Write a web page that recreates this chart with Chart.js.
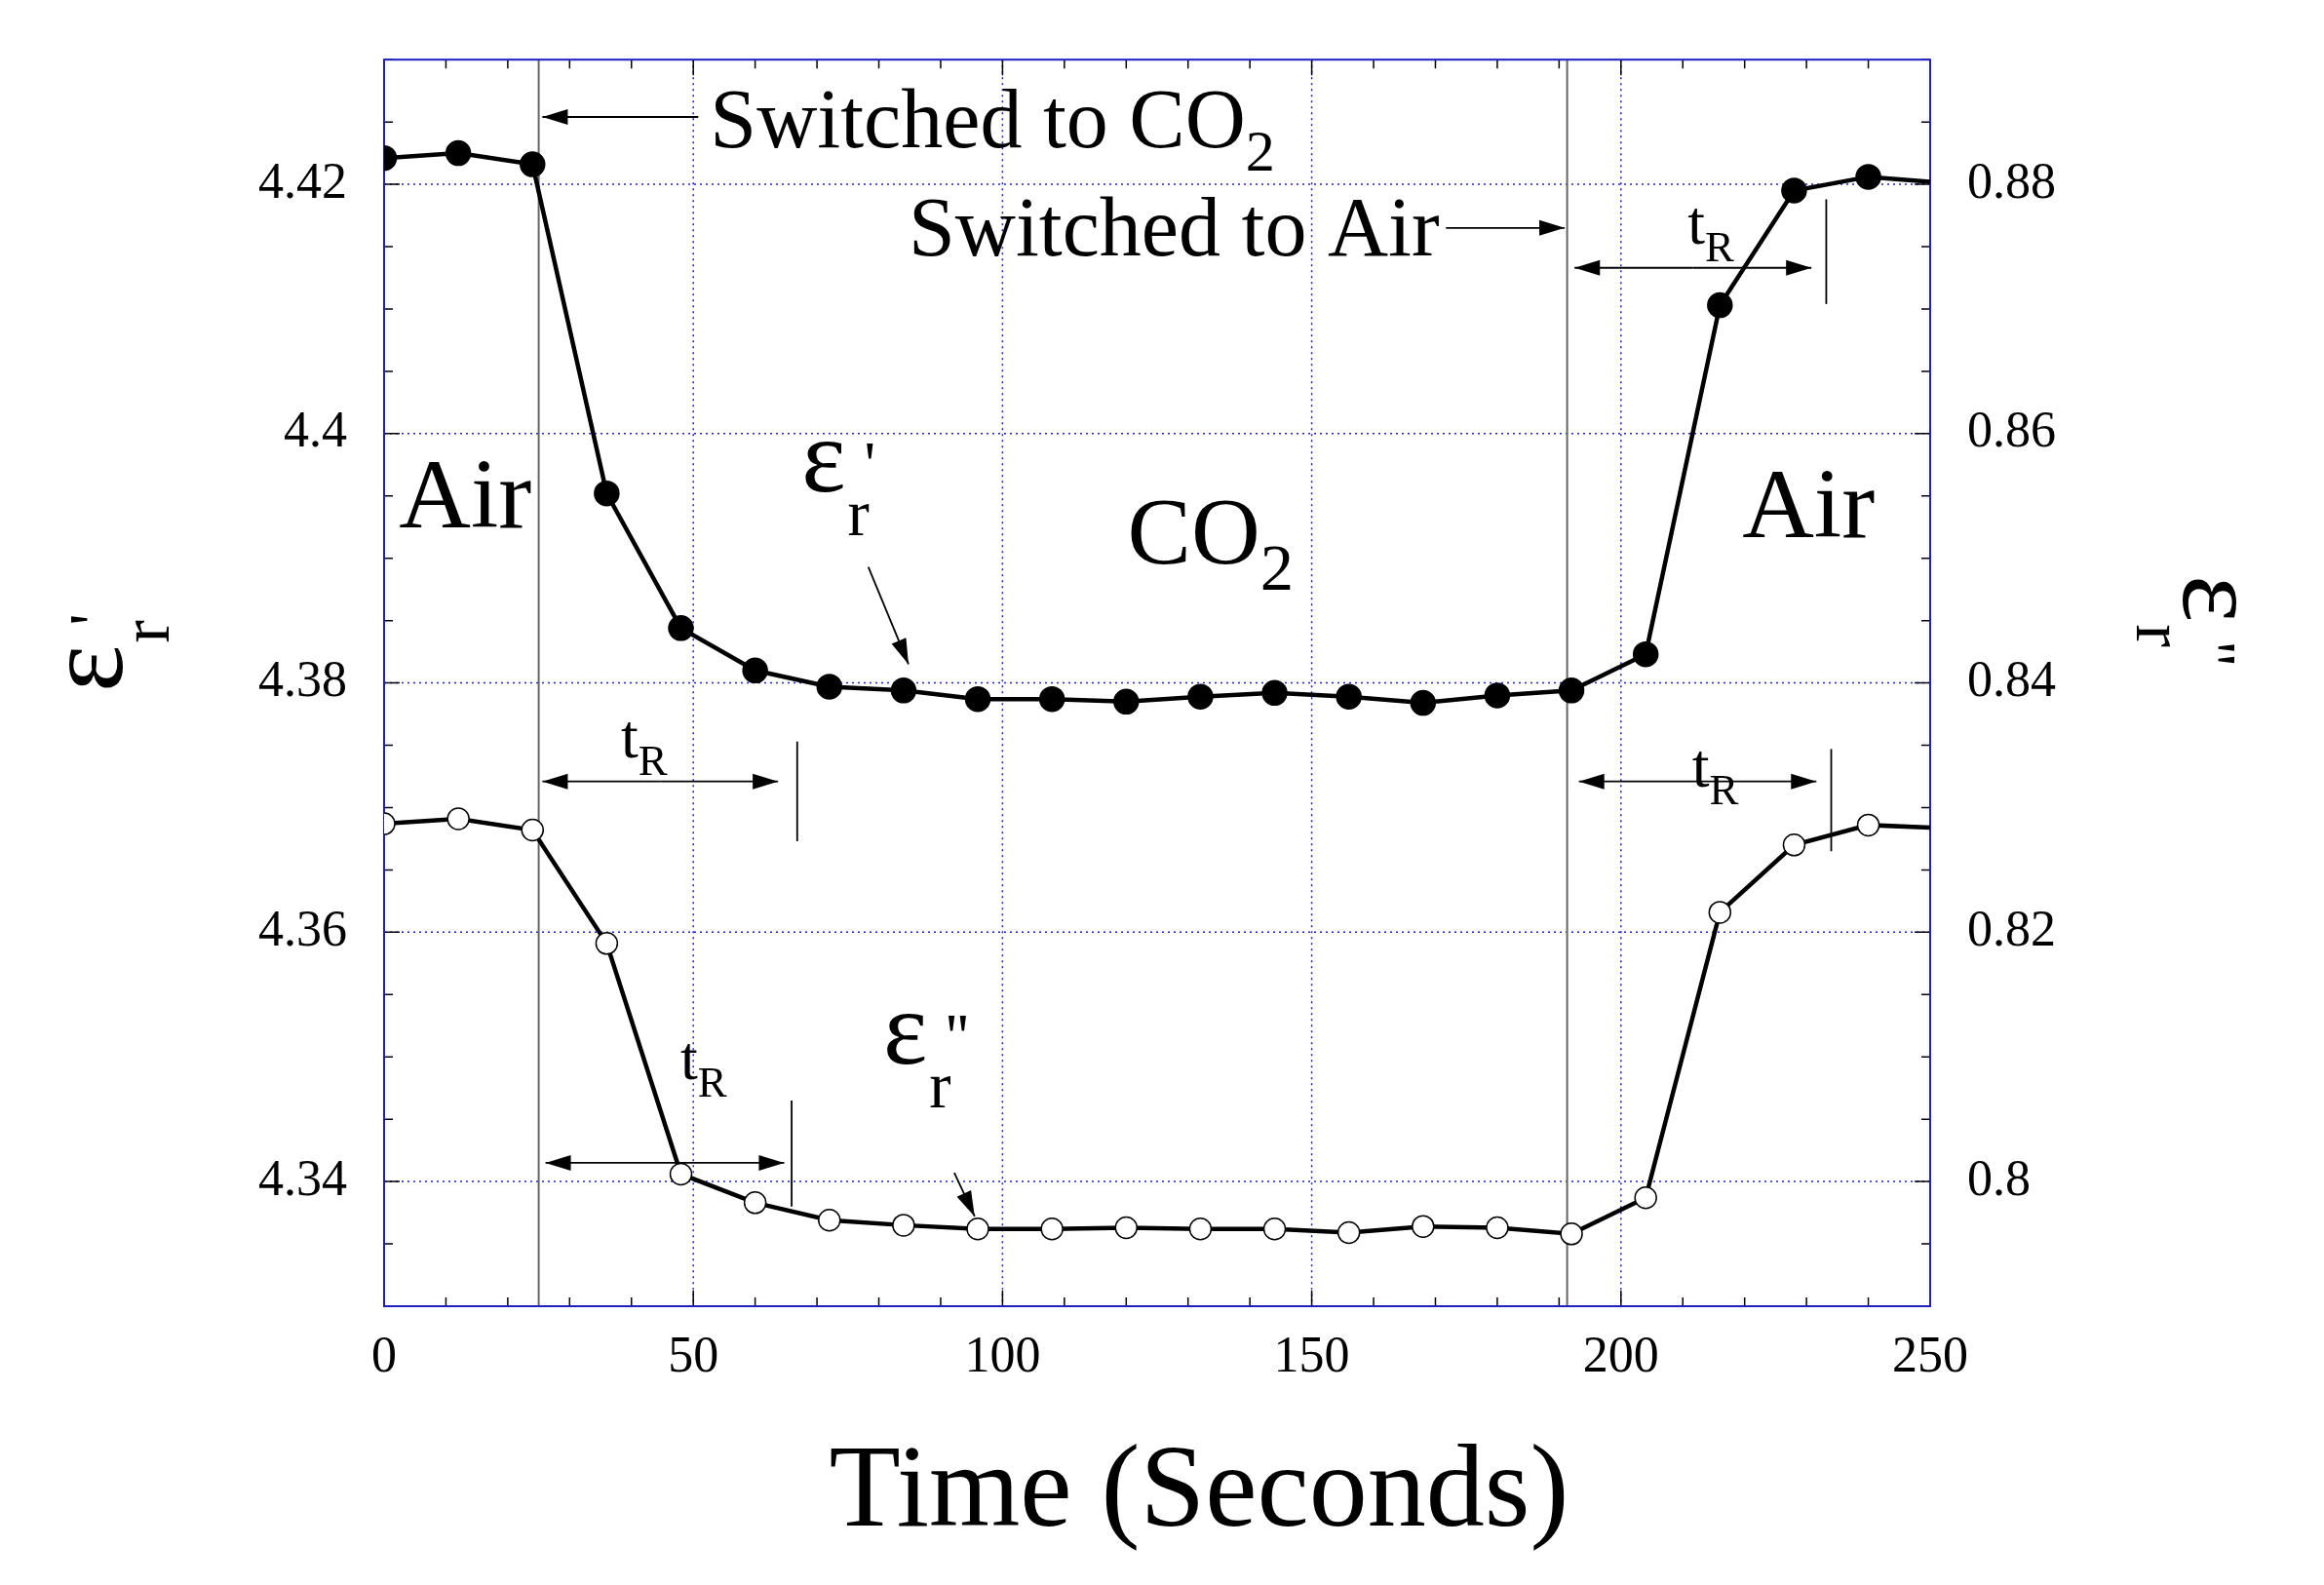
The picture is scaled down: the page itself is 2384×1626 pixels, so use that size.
<!DOCTYPE html>
<html>
<head>
<meta charset="utf-8">
<script src="https://cdn.jsdelivr.net/npm/chart.js@4"></script>
<style>
html,body{margin:0;padding:0;background:#fff;}
#wrap{width:2384px;height:1626px;}
</style>
</head>
<body>
<div id="wrap"><canvas id="c" width="2384" height="1626"></canvas></div>
<script>
// data
let times = [0,12,24,36,48,60,72,84,96,108,120,132,144,156,168,180,192,204,216,228,240,250];
let epsReal = [4.4221,4.4225,4.4216,4.3952,4.3844,4.3810,4.3797,4.3794,4.3787,4.3787,4.3785,4.3789,4.3792,4.3789,4.3784,4.3790,4.3794,4.3823,4.4103,4.4195,4.4206,4.4202];
let epsImag = [0.8287,0.8291,0.8282,0.8191,0.8006,0.7983,0.7969,0.7965,0.7962,0.7962,0.7963,0.7962,0.7962,0.7959,0.7964,0.7963,0.7958,0.7987,0.8216,0.8270,0.8286,0.8284];
let xTicks = [0,50,100,150,200,250];
let leftTicks = [4.34,4.36,4.38,4.40,4.42];
let rightTicks = [0.80,0.82,0.84,0.86,0.88];

const F = "'Liberation Serif','Times New Roman',serif";

function pts(ys){
  return times.map((t,i)=>({x:t,y:ys[i]}));
}
// last point (250) is only the line end, no marker
function radii(r){ return times.map(t => t===250 ? 0 : r); }

function arrow(ctx,x1,y1,x2,y2){
  ctx.beginPath(); ctx.moveTo(x1,y1); ctx.lineTo(x2,y2); ctx.stroke();
  let a = Math.atan2(y2-y1,x2-x1), L=26, W=8;
  ctx.beginPath();
  ctx.moveTo(x2,y2);
  ctx.lineTo(x2-L*Math.cos(a)+W*Math.sin(a), y2-L*Math.sin(a)-W*Math.cos(a));
  ctx.lineTo(x2-L*Math.cos(a)-W*Math.sin(a), y2-L*Math.sin(a)+W*Math.cos(a));
  ctx.closePath(); ctx.fill();
}

function txt(ctx,s,x,y,size){
  ctx.font = size+"px "+F; ctx.fillText(s,x,y);
  return x + ctx.measureText(s).width;
}
function withSub(ctx,main,sub,x,y,size){
  let e = txt(ctx,main,x,y,size);
  return txt(ctx,sub,e,y+size*0.28,size*0.7);
}
function epsLabel(ctx,primes,x,y,size){
  let e = txt(ctx,"\u03b5",x,y,size);
  let r = txt(ctx,"r",e+2,y+size*0.42,size*0.62);
  txt(ctx,primes,r-size*0.05,y-size*0.05,size*0.6);
}

const decor = {
  id:'decor',
  beforeDatasetsDraw(chart){
    const ctx = chart.ctx, xs = chart.scales.x, yl = chart.scales.yL, a = chart.chartArea;
    ctx.save();
    // dotted blue grid
    ctx.strokeStyle = '#2020c0'; ctx.lineWidth = 1.5; ctx.setLineDash([2,4]);
    xTicks.slice(1,-1).forEach(t=>{
      let px = xs.getPixelForValue(t);
      ctx.beginPath(); ctx.moveTo(px,a.top); ctx.lineTo(px,a.bottom); ctx.stroke();
    });
    leftTicks.forEach(v=>{
      let py = yl.getPixelForValue(v);
      ctx.beginPath(); ctx.moveTo(a.left,py); ctx.lineTo(a.right,py); ctx.stroke();
    });
    ctx.setLineDash([]);
    // minor + major ticks inward
    ctx.strokeStyle = '#000'; ctx.lineWidth = 1.5;
    for(let t=0;t<=250;t+=10){
      let px = xs.getPixelForValue(t), len = t%50===0 ? 16 : 9;
      ctx.beginPath(); ctx.moveTo(px,a.bottom); ctx.lineTo(px,a.bottom-len);
      ctx.moveTo(px,a.top); ctx.lineTo(px,a.top+len); ctx.stroke();
    }
    for(let k=0;k<=20;k++){
      let v = 4.33 + k*0.005, py = yl.getPixelForValue(v), len = k%4===2 ? 16 : 9;
      ctx.beginPath(); ctx.moveTo(a.left,py); ctx.lineTo(a.left+len,py);
      ctx.moveTo(a.right,py); ctx.lineTo(a.right-len,py); ctx.stroke();
    }
    // switch lines
    ctx.strokeStyle = '#666'; ctx.lineWidth = 2;
    [25,191.3].forEach(t=>{
      let px = xs.getPixelForValue(t);
      ctx.beginPath(); ctx.moveTo(px,a.top); ctx.lineTo(px,a.bottom); ctx.stroke();
    });
    // frame
    ctx.strokeStyle = '#2020c0'; ctx.lineWidth = 2;
    ctx.strokeRect(a.left,a.top,a.right-a.left,a.bottom-a.top);
    ctx.restore();
  },
  afterDatasetsDraw(chart){
    const ctx = chart.ctx, xs = chart.scales.x, yl = chart.scales.yL;
    const X = t => xs.getPixelForValue(t), Y = v => yl.getPixelForValue(v);
    ctx.save();
    ctx.fillStyle = '#000'; ctx.strokeStyle = '#000'; ctx.lineWidth = 1.8;
    ctx.textBaseline = 'alphabetic'; ctx.textAlign = 'left';
    // switch annotations
    withSub(ctx,"Switched to CO","2",X(52.7),Y(4.4230),86);
    arrow(ctx,X(50.8),Y(4.4254),X(25.6),Y(4.4254));
    txt(ctx,"Switched to Air",X(84.8),Y(4.4143),86);
    arrow(ctx,X(171.7),Y(4.4165),X(190.9),Y(4.4165));
    // region labels
    txt(ctx,"Air",X(2.4),Y(4.3925),102);
    withSub(ctx,"CO","2",X(120.2),Y(4.3896),98);
    txt(ctx,"Air",X(219.6),Y(4.3917),102);
    // epsilon labels
    epsLabel(ctx,"'",X(67.5),Y(4.3954),108);
    arrow(ctx,X(78.3),Y(4.3893),X(84.8),Y(4.3815));
    epsLabel(ctx,"''",X(80.7),Y(4.3495),108);
    arrow(ctx,X(92.2),Y(4.3407),X(95.5),Y(4.3372));
    // response time markers
    const tR = (tx,ty,a1,a2,ay,vx,v1,v2)=>{
      withSub(ctx,"t","R",X(tx),Y(ty),64);
      arrow(ctx,X((a1+a2)/2),Y(ay),X(a1),Y(ay));
      arrow(ctx,X((a1+a2)/2),Y(ay),X(a2),Y(ay));
      ctx.beginPath(); ctx.moveTo(X(vx),Y(v1)); ctx.lineTo(X(vx),Y(v2)); ctx.stroke();
    };
    tR(210.8,4.4152,192.5,230.8,4.4133,233.2,4.4188,4.4104);
    tR(38.3,4.3740,25.6,63.7,4.3721,66.8,4.3753,4.3673);
    tR(211.5,4.3717,193.2,231.6,4.3721,234,4.3747,4.3665);
    tR(47.9,4.3482,26.1,64.7,4.3415,65.9,4.3465,4.3380);
    // axis titles
    ctx.textAlign = 'center';
    ctx.font = "120px "+F;
    ctx.fillText("Time (Seconds)",1230,1565);
    ctx.textAlign = 'left';
    ctx.save(); ctx.translate(125,660); ctx.rotate(-Math.PI/2);
    epsLabel(ctx,"'",-50,0,115); ctx.restore();
    ctx.save(); ctx.translate(2240,590); ctx.rotate(Math.PI/2);
    epsLabel(ctx,"''",0,0,115); ctx.restore();
    ctx.restore();
  }
};

new Chart(document.getElementById('c'),{
  type:'line',
  data:{datasets:[
    {data:pts(epsReal), yAxisID:'yL', borderColor:'#000', borderWidth:4.5,
     pointRadius:radii(11), pointBackgroundColor:'#000', pointBorderColor:'#000', tension:0},
    {data:pts(epsImag), yAxisID:'yR', borderColor:'#000', borderWidth:4.5,
     pointRadius:radii(11), pointBackgroundColor:'#fff', pointBorderColor:'#000', pointBorderWidth:1.5, tension:0}
  ]},
  plugins:[decor],
  options:{
    responsive:false, animation:false,
    layout:{padding:{top:10}},
    plugins:{legend:{display:false}, tooltip:{enabled:false}},
    scales:{
      x:{type:'linear', min:0, max:250,
        afterBuildTicks:s=>{s.ticks = xTicks.map(v=>({value:v}));},
        afterFit:s=>{s.height = 286;},
        grid:{display:false}, border:{display:false},
        ticks:{color:'#000', padding:14, font:{family:F,size:52}}},
      yL:{type:'linear', position:'left', min:4.33, max:4.43,
        afterBuildTicks:s=>{s.ticks = leftTicks.map(v=>({value:v}));},
        afterFit:s=>{s.width = 394;},
        grid:{display:false}, border:{display:false},
        ticks:{color:'#000', padding:30, font:{family:F,size:52}, callback:v=>String(+v.toFixed(2))}},
      yR:{type:'linear', position:'right', min:0.79, max:0.89,
        afterBuildTicks:s=>{s.ticks = rightTicks.map(v=>({value:v}));},
        afterFit:s=>{s.width = 404;},
        grid:{display:false}, border:{display:false},
        ticks:{color:'#000', padding:30, font:{family:F,size:52}, callback:v=>String(+v.toFixed(2))}}
    }
  }
});
</script>
</body>
</html>
